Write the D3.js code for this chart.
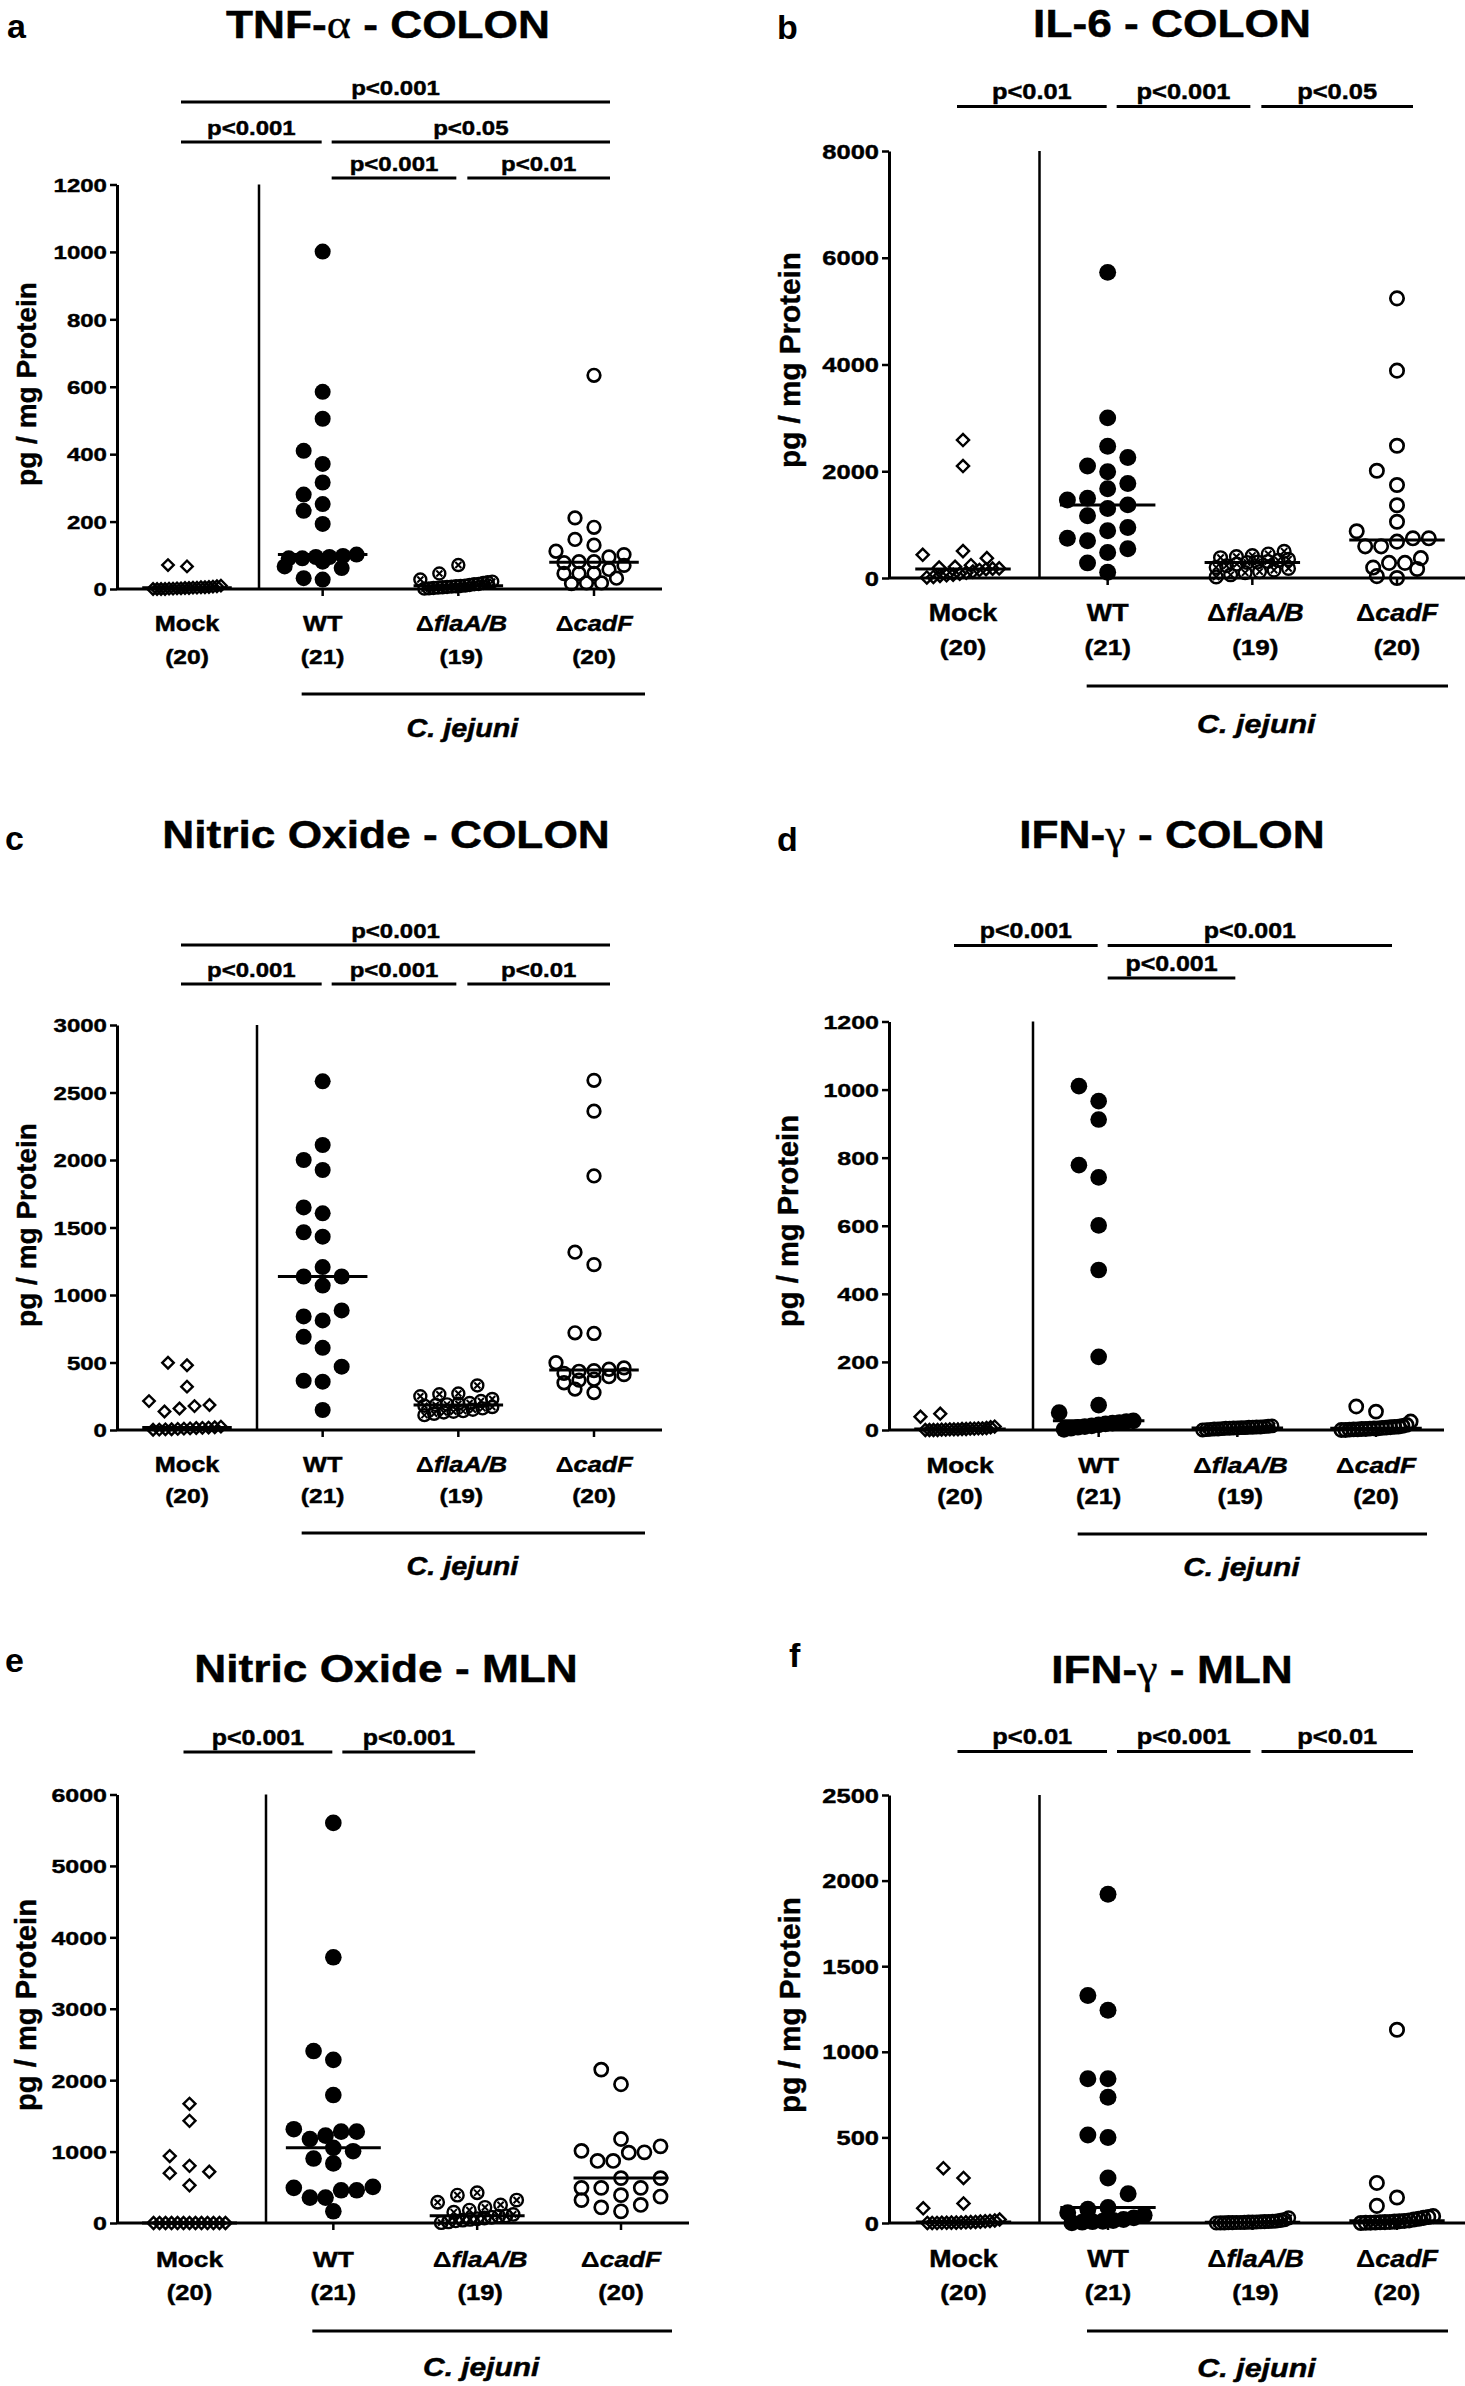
<!DOCTYPE html>
<html><head><meta charset="utf-8">
<script src="https://cdn.jsdelivr.net/npm/d3@7"></script>
<style>body{margin:0;background:#fff}svg{display:block;background:#fff}</style>
</head><body>
<svg id="chart" width="1465" height="2386"></svg>
<script>
// ---------- categories ----------
const groups = ["Mock", "WT", "\u0394flaA/B", "\u0394cadF"];
const groupN = ["(20)", "(21)", "(19)", "(20)"];
const speciesLabel = "C. jejuni";
const yLabel = "pg / mg Protein";

// ---------- tick values ----------
const ticksA = [0, 200, 400, 600, 800, 1000, 1200];
const ticksB = [0, 2000, 4000, 6000, 8000];
const ticksC = [0, 500, 1000, 1500, 2000, 2500, 3000];
const ticksD = [0, 200, 400, 600, 800, 1000, 1200];
const ticksE = [0, 1000, 2000, 3000, 4000, 5000, 6000];
const ticksF = [0, 500, 1000, 1500, 2000, 2500];

// ---------- series values (pg / mg protein) ----------
// a: TNF-alpha colon
const tnfMock = [71, 67, 10, 8, 7, 6, 5, 5, 4, 4, 3, 3, 2, 2, 1, 1, 0, 0, 0, 0];
const tnfWT   = [1001, 585, 505, 410, 371, 316, 280, 252, 232, 193, 102, 98, 95, 95, 91, 91, 81, 67, 62, 32, 28];
const tnfFla  = [71, 46, 28, 22, 20, 18, 15, 14, 12, 10, 9, 8, 7, 6, 5, 4, 3, 2, 1];
const tnfCad  = [634, 211, 183, 147, 130, 112, 102, 95, 81, 81, 78, 70, 58, 46, 46, 46, 32, 18, 18, 16];
// b: IL-6 colon
const il6Mock = [2584, 2097, 504, 434, 372, 240, 210, 195, 180, 175, 165, 150, 120, 100, 80, 60, 50, 40, 20, 10];
const il6WT   = [5726, 3000, 2469, 2257, 2097, 1991, 1770, 1673, 1496, 1460, 1370, 1301, 1168, 947, 885, 743, 699, 549, 478, 283, 106];
const il6Fla  = [500, 450, 420, 400, 380, 350, 330, 310, 300, 290, 260, 230, 200, 180, 150, 120, 100, 60, 20];
const il6Cad  = [5239, 3885, 2478, 2009, 1743, 1363, 1053, 876, 743, 743, 681, 593, 593, 372, 283, 283, 195, 168, 35, 0];
// c: nitric oxide colon
const noMock = [498, 480, 321, 214, 185, 177, 159, 137, 25, 20, 18, 16, 15, 12, 10, 8, 6, 5, 3, 2];
const noWT   = [2583, 2111, 2000, 1926, 1649, 1605, 1465, 1432, 1207, 1137, 1137, 1070, 886, 841, 812, 690, 609, 469, 365, 358, 148];
const noFla  = [330, 270, 265, 250, 230, 215, 200, 195, 190, 185, 180, 170, 160, 150, 140, 135, 130, 120, 110];
const noCad  = [2590, 2362, 1882, 1317, 1225, 720, 715, 498, 460, 450, 440, 435, 420, 410, 395, 376, 369, 350, 303, 277];
// d: IFN-gamma colon
const ifnMock = [48, 39, 10, 8, 6, 5, 5, 4, 4, 3, 3, 2, 2, 2, 1, 1, 0, 0, 0, 0];
const ifnWT   = [1010, 966, 912, 778, 742, 601, 470, 215, 73, 51, 27, 25, 22, 20, 18, 15, 12, 10, 8, 5, 2];
const ifnFla  = [12, 11, 10, 9, 9, 8, 8, 7, 7, 6, 6, 5, 5, 4, 3, 3, 2, 1, 0];
const ifnCad  = [69, 54, 25, 15, 12, 10, 9, 8, 7, 6, 5, 5, 4, 3, 3, 2, 2, 1, 0, 0];
// e: nitric oxide MLN
const noMlnMock = [1669, 1430, 937, 800, 718, 698, 527, 0, 0, 0, 0, 0, 0, 0, 0, 0, 0, 0, 0, 0];
const noMlnWT   = [5602, 3721, 2408, 2285, 1792, 1313, 1279, 1279, 1224, 1176, 1053, 1005, 903, 834, 506, 492, 458, 458, 356, 356, 164];
const noMlnFla  = [424, 390, 321, 290, 253, 219, 180, 150, 120, 100, 96, 80, 70, 60, 50, 40, 30, 15, 5];
const noMlnCad  = [2148, 1943, 1176, 1074, 1010, 990, 985, 869, 869, 629, 629, 492, 492, 492, 390, 370, 321, 253, 219, 164];
// f: IFN-gamma MLN
const ifnMlnMock = [320, 263, 114, 86, 20, 15, 12, 10, 8, 6, 5, 4, 3, 2, 2, 1, 1, 0, 0, 0];
const ifnMlnWT   = [1920, 1329, 1243, 843, 843, 734, 514, 500, 263, 171, 91, 80, 60, 45, 30, 20, 15, 10, 8, 5, 2];
const ifnMlnFla  = [30, 20, 15, 12, 10, 9, 8, 7, 6, 5, 5, 4, 3, 3, 2, 2, 1, 1, 0];
const ifnMlnCad  = [1129, 234, 149, 100, 40, 35, 30, 25, 20, 15, 12, 10, 8, 6, 5, 4, 3, 2, 1, 0];

// ---------- significance comparisons ----------
const sigA = [
  {from: 0, to: 3, row: 0, p: "p<0.001"},
  {from: 0, to: 1, row: 1, p: "p<0.001"},
  {from: 1, to: 3, row: 1, p: "p<0.05"},
  {from: 1, to: 2, row: 2, p: "p<0.001"},
  {from: 2, to: 3, row: 2, p: "p<0.01"}];
const sigB = [
  {from: 0, to: 1, row: 0, p: "p<0.01"},
  {from: 1, to: 2, row: 0, p: "p<0.001"},
  {from: 2, to: 3, row: 0, p: "p<0.05"}];
const sigC = [
  {from: 0, to: 3, row: 0, p: "p<0.001"},
  {from: 0, to: 1, row: 1, p: "p<0.001"},
  {from: 1, to: 2, row: 1, p: "p<0.001"},
  {from: 2, to: 3, row: 1, p: "p<0.01"}];
const sigD = [
  {from: 0, to: 1, row: 0, p: "p<0.001"},
  {from: 1, to: 3, row: 0, p: "p<0.001"},
  {from: 1, to: 2, row: 1, p: "p<0.001"}];
const sigE = [
  {from: 0, to: 1, row: 0, p: "p<0.001"},
  {from: 1, to: 2, row: 0, p: "p<0.001"}];
const sigF = [
  {from: 0, to: 1, row: 0, p: "p<0.01"},
  {from: 1, to: 2, row: 0, p: "p<0.001"},
  {from: 2, to: 3, row: 0, p: "p<0.01"}];

// ---------- panels (layout kept separate from data) ----------
const panels = [
  {letter: "a", title: ["TNF-", "\u03b1", " - COLON"], yMax: 1200, ticks: ticksA,
   data: [tnfMock, tnfWT, tnfFla, tnfCad], sig: sigA,
   L: {k: 1, ax: 117, yTop: 184.5, y0: 589, c0: 187, c3: 594, sep: 259, tX: 388, tY: 38, lX: 7, lY: 38,
       ylX: 36, ylY: 384, catY: 631, nY: 664, cjY: 694, cjTY: 737, rows: [102, 142, 178]}},
  {letter: "b", title: ["IL-6 - COLON"], yMax: 8000, ticks: ticksB,
   data: [il6Mock, il6WT, il6Fla, il6Cad], sig: sigB,
   L: {k: 1.06, ax: 889, yTop: 151, y0: 578, c0: 963, c3: 1397, sep: 1039.5, tX: 1172, tY: 37, lX: 777, lY: 39,
       ylX: 800, ylY: 360, catY: 621, nY: 655, cjY: 686, cjTY: 733, rows: [106.5]}},
  {letter: "c", title: ["Nitric Oxide - COLON"], yMax: 3000, ticks: ticksC,
   data: [noMock, noWT, noFla, noCad], sig: sigC,
   L: {k: 1, ax: 117, yTop: 1025, y0: 1430, c0: 187, c3: 594, sep: 257, tX: 386, tY: 847.5, lX: 5, lY: 850,
       ylX: 36, ylY: 1225, catY: 1472, nY: 1503, cjY: 1533, cjTY: 1575, rows: [945, 984]}},
  {letter: "d", title: ["IFN-", "\u03b3", " - COLON"], yMax: 1200, ticks: ticksD,
   data: [ifnMock, ifnWT, ifnFla, ifnCad], sig: sigD,
   L: {k: 1.04, ax: 889, yTop: 1021.5, y0: 1430, c0: 960, c3: 1376, sep: 1033, tX: 1172, tY: 847.5, lX: 777, lY: 851,
       ylX: 798, ylY: 1221, catY: 1473, nY: 1504, cjY: 1534, cjTY: 1576, rows: [945.5, 978]}},
  {letter: "e", title: ["Nitric Oxide - MLN"], yMax: 6000, ticks: ticksE,
   data: [noMlnMock, noMlnWT, noMlnFla, noMlnCad], sig: sigE,
   L: {k: 1.04, ax: 117, yTop: 1794.5, y0: 2223, c0: 189.5, c3: 621, sep: 266, tX: 386, tY: 1681.5, lX: 5, lY: 1672,
       ylX: 36, ylY: 2005, catY: 2267, nY: 2300, cjY: 2331, cjTY: 2376, rows: [1752]}},
  {letter: "f", title: ["IFN-", "\u03b3", " - MLN"], yMax: 2500, ticks: ticksF,
   data: [ifnMlnMock, ifnMlnWT, ifnMlnFla, ifnMlnCad], sig: sigF,
   L: {k: 1.06, ax: 889, yTop: 1795, y0: 2223, c0: 963.5, c3: 1397, sep: 1039.5, tX: 1172, tY: 1683, lX: 789, lY: 1667,
       ylX: 800, ylY: 2005, catY: 2267, nY: 2300, cjY: 2331, cjTY: 2377, rows: [1751.5]}}
];

const FONT = '"Liberation Sans", Arial, Helvetica, sans-serif';
const SERIF = '"Liberation Serif", "Times New Roman", serif';
const svg = d3.select("#chart");
svg.append("rect").attr("width", 1465).attr("height", 2386).attr("fill", "#fff");

function addText(g, x, y, size, sx, anchor) {
  return g.append("text")
    .attr("transform", `translate(${x},${y}) scale(${sx},1)`)
    .attr("text-anchor", anchor || "middle")
    .style("font-family", FONT).style("font-weight", "bold")
    .style("font-size", size + "px").style("white-space", "pre")
    .attr("fill", "#000").attr("stroke", "#000").attr("stroke-width", 0.45);
}

// GraphPad-like scatter arrangement: dense rows are spread evenly,
// sparse points are placed greedily in horizontal slots avoiding overlap.
function arrange(vals, y, cx, D, halfDense, halfSlots, slot) {
  const pts = vals.map((v, i) => ({v, i, py: y(v)}));
  const asc = pts.slice().sort((a, b) => b.py - a.py || a.i - b.i);
  const rows = [];
  let cur = null;
  for (const p of asc) {
    if (cur && cur.base - p.py < D * 0.6) cur.items.push(p);
    else { cur = {base: p.py, items: [p]}; rows.push(cur); }
  }
  const placed = [];
  const cands = [0, -1, 1, -2, 2].map(m => m * slot).filter(o => Math.abs(o) <= halfSlots + 0.5);
  for (const r of rows) {
    const n = r.items.length;
    if (n >= 4) {
      const sp = Math.min(D, 2 * halfDense / (n - 1));
      r.items.forEach((p, j) => { p.px = cx + (j - (n - 1) / 2) * sp; placed.push(p); });
    } else {
      for (const p of r.items) {
        let best = 0, bestD = -1;
        for (const o of cands) {
          const xx = cx + o;
          let md = Infinity;
          for (const q of placed) md = Math.min(md, Math.hypot(q.px - xx, q.py - p.py));
          if (md >= D) { best = o; bestD = Infinity; break; }
          if (md > bestD) { bestD = md; best = o; }
        }
        p.px = cx + best; placed.push(p);
      }
    }
  }
  return pts;
}

const offL = [-6, 9, 9, 0];
const offR = [0, -1, -2, 16];

panels.forEach(P => {
  const L = P.L, k = L.k;
  const g = svg.append("g");
  const y = d3.scaleLinear().domain([0, P.yMax]).range([L.y0, L.yTop]);
  const x = d3.scalePoint().domain(groups).range([L.c0, L.c3]);
  const step = x.step();

  // panel letter
  g.append("text").attr("x", L.lX).attr("y", L.lY)
    .style("font-family", FONT).style("font-weight", "bold").style("font-size", "34px").text(P.letter);

  // title
  const t = addText(g, L.tX, L.tY, 38.5, 1.15, "middle");
  P.title.forEach(part => {
    const ts = t.append("tspan").text(part);
    if (part === "\u03b1" || part === "\u03b3") ts.style("font-family", SERIF).style("font-weight", "normal").style("font-size", "40px").attr("stroke-width", 0.3);
  });

  // y axis
  const yAxis = d3.axisLeft(y).tickValues(P.ticks).tickSize(7).tickSizeOuter(0).tickPadding(0).tickFormat(d3.format("d"));
  const ag = g.append("g").attr("transform", `translate(${L.ax},0)`).call(yAxis);
  ag.select(".domain").attr("stroke", "#000").attr("stroke-width", 3);
  ag.selectAll(".tick line").attr("stroke", "#000").attr("stroke-width", 2.5);
  ag.selectAll(".tick text")
    .attr("x", null).attr("dy", "0.36em")
    .attr("transform", `translate(-10,0) scale(1.3,1)`)
    .attr("stroke", "#000").attr("stroke-width", 0.4)
    .style("font-family", FONT).style("font-weight", "bold").style("font-size", (18.5 * k) + "px").attr("fill", "#000");

  // y label
  g.append("text").attr("transform", `translate(${L.ylX},${L.ylY}) rotate(-90)`)
    .attr("text-anchor", "middle").style("font-family", FONT).style("font-weight", "bold")
    .attr("stroke", "#000").attr("stroke-width", 0.4)
    .style("font-size", (28 * k) + "px").text(yLabel);

  // x axis line
  const xEnd = x(groups[3]) + 68;
  g.append("line").attr("x1", L.ax).attr("x2", xEnd).attr("y1", L.y0).attr("y2", L.y0)
    .attr("stroke", "#000").attr("stroke-width", 3);
  groups.slice(1).forEach(c => {
    g.append("line").attr("x1", x(c)).attr("x2", x(c)).attr("y1", L.y0).attr("y2", L.y0 + 7)
      .attr("stroke", "#000").attr("stroke-width", 2.5);
  });

  // separator between Mock and infected groups
  g.append("line").attr("x1", L.sep).attr("x2", L.sep).attr("y1", y(P.yMax)).attr("y2", L.y0)
    .attr("stroke", "#000").attr("stroke-width", 2.5);

  // category labels
  groups.forEach((c, i) => {
    const cx = x(c) + (i === 2 ? 3 : 0);
    const tt = addText(g, cx, L.catY, 22 * k, 1.15, "middle");
    if (c.startsWith("\u0394")) {
      tt.append("tspan").attr("stroke-width", 0.1).text("\u0394");
      tt.append("tspan").style("font-style", "italic").text(c.slice(1));
    } else tt.text(c);
    addText(g, cx, L.nY, 21 * k, 1.17, "middle").text(groupN[i]);
  });

  // C. jejuni bracket
  const cj1 = x(groups[1]) - 21, cj2 = x(groups[3]) + 51;
  g.append("line").attr("x1", cj1).attr("x2", cj2).attr("y1", L.cjY).attr("y2", L.cjY)
    .attr("stroke", "#000").attr("stroke-width", 3.2);
  addText(g, (x(groups[2]) + 4), L.cjTY, 25 * k, 1.15, "middle").style("font-style", "italic").text(speciesLabel);

  // significance bars
  P.sig.forEach(s => {
    const x1 = x(groups[s.from]) + offL[s.from], x2 = x(groups[s.to]) + offR[s.to];
    const yy = L.rows[s.row];
    g.append("line").attr("x1", x1).attr("x2", x2).attr("y1", yy).attr("y2", yy)
      .attr("stroke", "#000").attr("stroke-width", 3);
    addText(g, (x1 + x2) / 2, yy - 7.5, 20.5 * k, 1.17, "middle").text(s.p);
  });

  // points
  const D = 15 * k;
  P.data.forEach((vals, gi) => {
    const cx = x(groups[gi]);
    const pts = arrange(vals, y, cx, D, step * 0.25, step * 0.3, 19 * k);
    const pg = g.append("g");
    pts.forEach(p => {
      if (gi === 0) {
        pg.append("path").attr("d", d3.symbol(d3.symbolSquare, 66 * k * k)())
          .attr("transform", `translate(${p.px},${p.py}) rotate(45)`)
          .attr("fill", "none").attr("stroke", "#000").attr("stroke-width", 2.4);
      } else if (gi === 1) {
        pg.append("circle").attr("cx", p.px).attr("cy", p.py).attr("r", 8 * k).attr("fill", "#000");
      } else if (gi === 2) {
        const r = 6 * k, a = 3 * k;
        pg.append("circle").attr("cx", p.px).attr("cy", p.py).attr("r", r)
          .attr("fill", "none").attr("stroke", "#000").attr("stroke-width", 2.4);
        pg.append("path").attr("d", `M${p.px - a},${p.py - a}L${p.px + a},${p.py + a}M${p.px - a},${p.py + a}L${p.px + a},${p.py - a}`)
          .attr("stroke", "#000").attr("stroke-width", 2);
      } else {
        pg.append("circle").attr("cx", p.px).attr("cy", p.py).attr("r", 6.3 * k)
          .attr("fill", "none").attr("stroke", "#000").attr("stroke-width", 2.7);
      }
    });
    // median line
    const med = d3.median(vals);
    g.append("line").attr("x1", cx - step * 0.33).attr("x2", cx + step * 0.33)
      .attr("y1", y(med)).attr("y2", y(med)).attr("stroke", "#000").attr("stroke-width", 3);
  });
});
</script>
</body></html>
